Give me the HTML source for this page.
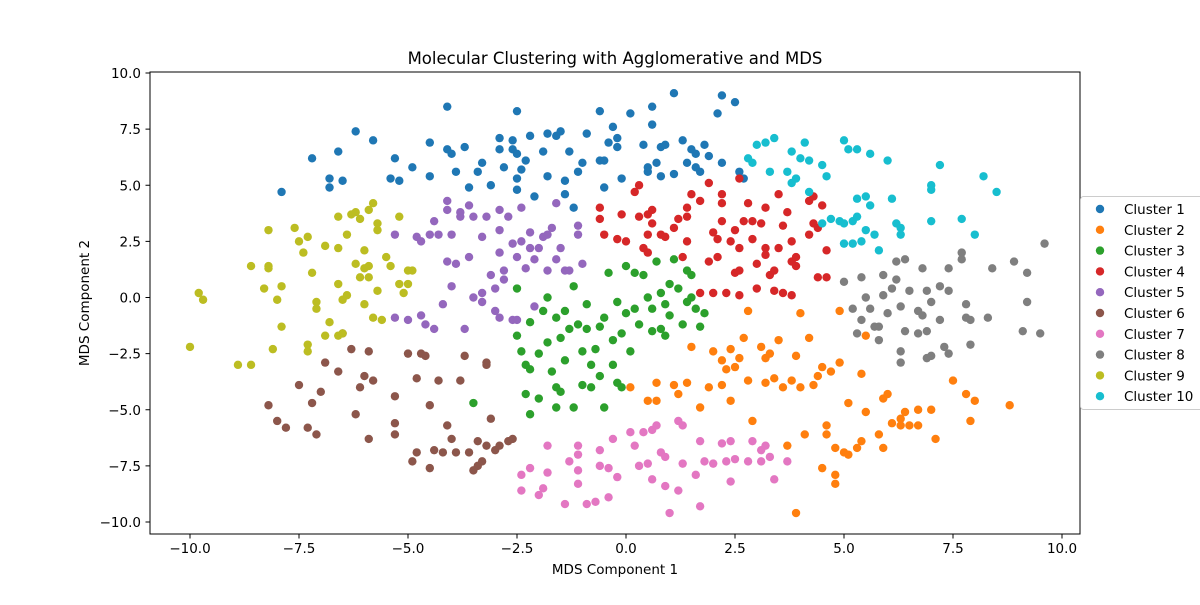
<!DOCTYPE html>
<html><head><meta charset="utf-8">
<style>
body{margin:0;background:#fff;}
svg text{font-family:"DejaVu Sans","Liberation Sans",sans-serif;}
</style></head>
<body>
<svg id="chart" width="1200" height="600" xmlns="http://www.w3.org/2000/svg">
<rect width="1200" height="600" fill="#fff"/>
<text x="615" y="64" text-anchor="middle" font-size="16.5">Molecular Clustering with Agglomerative and MDS</text>
<g id="plot"></g>
<rect x="150" y="72" width="930" height="462" fill="none" stroke="#000" stroke-width="1"/>
<g id="axes"></g>
<text x="615" y="574" text-anchor="middle" font-size="13.5">MDS Component 1</text>
<text x="89" y="303" text-anchor="middle" font-size="13.5" transform="rotate(-90 89 303)">MDS Component 2</text>
<g id="legend"></g>
</svg>
<script>
const clusterNames=["Cluster 1","Cluster 2","Cluster 3","Cluster 4","Cluster 5","Cluster 6","Cluster 7","Cluster 8","Cluster 9","Cluster 10"];
const colors=["#1f77b4","#ff7f0e","#2ca02c","#d62728","#9467bd","#8c564b","#e377c2","#7f7f7f","#bcbd22","#17becf"];
const xTicks=[-10,-7.5,-5,-2.5,0,2.5,5,7.5,10];
const yTicks=[-10,-7.5,-5,-2.5,0,2.5,5,7.5,10];
const c1=[[-7.9,4.7],[-7.2,6.2],[-6.8,5.3],[-6.8,4.9],[-6.6,6.5],[-6.5,5.2],[-6.2,7.4],[-5.8,7.0],[-5.4,5.3],[-5.3,6.2],[-5.2,5.2],[-4.9,5.8],[-4.5,6.9],[-4.5,5.4],[-4.1,8.5],[-4.1,6.6],[-4.0,6.4],[-3.9,5.6],[-3.7,6.7],[-3.6,4.9],[-3.4,5.6],[-3.3,6.0],[-3.1,5.0],[-2.9,7.1],[-2.9,6.6],[-2.8,5.8],[-2.6,7.0],[-2.6,6.6],[-2.5,8.3],[-2.5,6.4],[-2.5,5.3],[-2.5,4.8],[-2.4,5.7],[-2.3,6.1],[-2.2,7.2],[-2.1,4.5],[-1.9,6.5],[-1.8,7.3],[-1.8,5.4],[-1.6,7.2],[-1.5,7.4],[-1.4,4.6],[-1.4,5.2],[-1.3,6.5],[-1.2,4.0],[-1.1,5.6],[-1.0,6.0],[-0.9,7.3],[-0.6,8.3],[-0.6,6.1],[-0.5,6.1],[-0.5,4.9],[-0.4,6.9],[-0.3,7.6],[-0.2,6.7],[-0.2,7.1],[-0.1,5.3],[0.1,8.2],[0.4,6.8],[0.5,5.6],[0.5,5.8],[0.6,8.5],[0.6,7.7],[0.7,6.0],[0.8,5.4],[0.8,6.7],[0.9,6.8],[1.1,9.1],[1.1,5.5],[1.3,7.0],[1.4,6.0],[1.5,6.6],[1.6,6.4],[1.7,5.6],[1.8,6.8],[1.9,6.3],[2.1,8.2],[2.2,9.0],[2.2,6.0],[2.5,8.7],[2.6,5.6],[2.7,5.3],[1.6,5.8]];
const c2=[[1.1,-3.9],[1.2,-4.3],[1.4,-3.8],[1.5,-2.2],[1.7,-4.9],[1.9,-4.0],[2.0,-2.4],[2.2,-2.8],[2.2,-3.9],[2.3,-3.2],[2.4,-2.3],[2.4,-4.6],[2.5,-3.1],[2.6,-2.7],[2.7,-1.8],[2.8,-0.6],[2.8,-3.7],[2.9,-5.5],[3.1,-2.2],[3.2,-2.7],[3.2,-3.8],[3.3,-2.5],[3.4,-3.6],[3.5,-1.9],[3.6,-4.0],[3.7,-6.6],[3.8,-3.7],[3.9,-2.6],[3.9,-9.6],[4.0,-4.0],[4.0,-0.7],[4.1,-6.1],[4.2,-1.8],[4.3,-3.9],[4.4,-3.5],[4.5,-3.1],[4.5,-7.6],[4.6,-5.7],[4.6,-6.1],[4.7,-3.3],[4.8,-6.7],[4.8,-8.3],[4.8,-7.9],[4.9,-0.6],[4.9,-2.9],[5.0,-6.9],[5.1,-7.0],[5.1,-4.7],[5.3,-6.7],[5.4,-6.4],[5.4,-3.4],[5.5,-1.7],[5.5,-5.1],[5.8,-6.1],[5.9,-4.5],[5.9,-6.7],[6.0,-4.3],[6.1,-5.6],[6.3,-5.4],[6.3,-5.7],[6.4,-5.1],[6.5,-5.7],[6.7,-5.0],[6.7,-5.7],[7.0,-5.0],[7.1,-6.3],[7.5,-3.7],[7.8,-4.3],[7.9,-5.5],[8.0,-4.6],[8.8,-4.8],[0.1,-4.0],[0.7,-4.6],[0.7,-3.8],[0.5,-4.6]];
const c3=[[-3.5,-4.7],[-2.4,-2.4],[-2.3,-3.0],[-2.3,-4.3],[-2.2,-1.1],[-2.2,-3.2],[-2.2,-5.2],[-2.0,-2.5],[-2.0,-4.5],[-1.9,-0.6],[-1.8,0.0],[-1.8,-2.0],[-1.7,-3.3],[-1.6,-0.9],[-1.6,-4.0],[-1.6,-4.9],[-1.5,-1.8],[-1.5,-4.2],[-1.4,-2.8],[-1.3,-1.4],[-1.2,0.5],[-1.2,-4.9],[-1.1,-1.2],[-1.0,-2.4],[-1.0,-3.9],[-0.9,-0.3],[-0.9,-1.4],[-0.8,-3.0],[-0.8,-4.0],[-0.7,-2.3],[-0.6,-3.5],[-0.6,-1.3],[-0.5,-4.9],[-0.5,-0.9],[-0.4,1.1],[-0.3,-1.9],[-0.3,-3.0],[-0.2,-0.2],[-0.2,-3.8],[-0.1,-1.6],[-0.1,-4.0],[0.0,-0.7],[0.0,1.4],[0.1,-2.4],[0.2,1.1],[0.2,-0.5],[0.3,-1.2],[0.4,1.0],[0.5,0.0],[0.6,-0.5],[0.7,1.6],[0.8,0.2],[0.8,-1.4],[0.9,-0.3],[0.9,-1.7],[1.0,-0.8],[1.0,0.6],[1.1,1.7],[1.2,0.4],[1.3,-1.2],[1.4,-0.2],[1.5,1.0],[1.5,0.0],[1.6,-0.5],[1.7,-1.3],[1.8,-0.7],[1.4,1.2],[0.6,-1.5],[-1.4,-0.6],[-2.5,0.4],[-2.5,-1.7]];
const c4=[[-0.6,4.0],[-0.6,3.5],[-0.5,2.8],[-0.2,2.6],[-0.1,3.7],[0.0,2.5],[0.2,4.7],[0.3,5.0],[0.3,3.6],[0.4,2.2],[0.5,2.8],[0.5,2.0],[0.5,3.7],[0.6,3.9],[0.6,3.3],[0.8,2.8],[0.9,2.7],[1.1,3.1],[1.2,3.5],[1.3,1.8],[1.4,2.5],[1.4,3.6],[1.4,4.0],[1.5,4.6],[1.7,4.3],[1.9,5.1],[2.0,2.9],[2.1,2.6],[2.1,1.8],[2.0,0.2],[2.2,4.6],[2.2,4.2],[2.2,3.4],[2.4,2.5],[2.5,3.0],[2.5,1.1],[2.6,5.3],[2.6,1.2],[2.6,0.1],[2.7,3.4],[2.8,4.2],[2.9,3.4],[2.9,2.6],[3.0,1.5],[3.0,0.4],[3.1,3.3],[3.2,4.0],[3.2,2.2],[3.2,1.9],[3.3,1.0],[3.4,0.3],[3.4,1.2],[3.5,4.6],[3.5,2.2],[3.6,3.2],[3.6,0.2],[3.7,3.8],[3.8,2.5],[3.8,1.6],[3.8,0.1],[3.9,1.8],[3.9,1.4],[4.2,2.8],[4.2,4.3],[4.3,4.5],[4.3,3.3],[4.4,3.1],[4.4,0.9],[4.5,4.1],[4.6,2.1],[4.6,0.9],[1.7,0.2],[2.3,0.2],[2.6,2.2],[1.9,1.6]];
const c5=[[-5.3,2.8],[-5.3,-0.9],[-5.0,-1.0],[-4.8,2.7],[-4.7,-0.8],[-4.7,2.5],[-4.6,-1.2],[-4.5,2.8],[-4.4,3.4],[-4.4,-1.4],[-4.3,2.8],[-4.2,-0.3],[-4.1,4.3],[-4.1,1.6],[-4.1,3.9],[-4.0,0.5],[-4.0,2.8],[-3.9,1.5],[-3.8,3.6],[-3.8,3.8],[-3.7,-1.4],[-3.6,4.1],[-3.6,1.8],[-3.5,0.0],[-3.3,0.2],[-3.3,2.7],[-3.3,-0.2],[-3.2,3.6],[-3.1,1.0],[-3.0,-0.6],[-3.0,0.4],[-2.9,-0.9],[-2.9,3.9],[-2.9,2.0],[-2.9,3.0],[-2.8,1.2],[-2.8,0.8],[-2.7,3.6],[-2.6,-1.0],[-2.6,2.4],[-2.5,-1.0],[-2.5,1.8],[-2.4,2.5],[-2.3,1.3],[-2.2,2.2],[-2.2,2.9],[-2.1,1.7],[-2.1,-0.4],[-2.0,2.2],[-1.9,2.7],[-1.8,1.2],[-1.8,2.8],[-1.7,3.1],[-1.6,1.7],[-1.5,2.2],[-1.4,1.2],[-1.3,1.2],[-1.1,3.2],[-1.1,2.8],[-1.0,1.5],[-2.4,4.0],[-1.6,4.2],[-3.5,3.6]];
const c6=[[-8.2,-4.8],[-8.0,-5.5],[-7.8,-5.8],[-7.5,-3.9],[-7.3,-5.8],[-7.2,-4.7],[-7.1,-6.1],[-7.0,-4.2],[-6.9,-2.9],[-6.6,-3.3],[-6.5,-1.6],[-6.3,-2.3],[-6.2,-5.2],[-6.1,-4.0],[-6.0,-3.5],[-5.9,-2.4],[-5.9,-6.3],[-5.8,-3.7],[-5.3,-5.6],[-5.3,-6.1],[-5.3,-4.4],[-5.0,-2.5],[-4.9,-7.3],[-4.8,-6.9],[-4.8,-3.6],[-4.7,-2.5],[-4.6,-2.6],[-4.5,-4.8],[-4.5,-7.6],[-4.4,-6.8],[-4.3,-3.7],[-4.2,-6.9],[-4.1,-5.7],[-4.0,-6.3],[-3.9,-6.9],[-3.8,-3.7],[-3.7,-2.6],[-3.6,-6.9],[-3.5,-7.7],[-3.4,-7.5],[-3.4,-6.4],[-3.3,-7.3],[-3.2,-6.6],[-3.2,-3.0],[-3.1,-5.4],[-3.0,-6.8],[-2.9,-6.6],[-2.7,-6.4],[-2.6,-6.3],[-3.2,-2.9]];
const c7=[[-2.4,-7.9],[-2.4,-8.6],[-2.2,-7.6],[-2.0,-8.8],[-1.9,-8.5],[-1.8,-6.6],[-1.8,-7.8],[-1.4,-9.2],[-1.3,-7.3],[-1.1,-7.7],[-1.1,-6.6],[-1.1,-8.3],[-1.1,-7.0],[-0.9,-9.2],[-0.7,-9.1],[-0.6,-6.8],[-0.6,-7.5],[-0.4,-8.9],[-0.4,-7.6],[-0.3,-6.3],[-0.2,-8.0],[0.1,-6.0],[0.3,-7.5],[0.4,-6.0],[0.5,-7.4],[0.6,-5.9],[0.6,-8.1],[0.7,-5.7],[0.8,-6.9],[0.9,-8.4],[0.9,-7.1],[1.0,-9.6],[1.2,-8.6],[1.2,-5.5],[1.3,-5.7],[1.3,-7.4],[1.6,-7.9],[1.7,-9.3],[1.7,-6.4],[1.8,-7.3],[2.0,-7.4],[2.2,-6.5],[2.3,-7.3],[2.4,-6.4],[2.4,-8.2],[2.5,-7.2],[2.8,-7.3],[2.9,-6.4],[3.1,-7.3],[3.1,-6.8],[3.2,-6.6],[3.3,-7.1],[3.4,-8.1],[3.7,-7.3],[0.2,-6.6]];
const c8=[[5.0,0.7],[5.2,-0.5],[5.4,0.9],[5.4,-1.0],[5.5,0.0],[5.6,-0.5],[5.7,-1.3],[5.8,-1.3],[5.8,-1.9],[5.9,1.0],[5.9,0.1],[6.0,-0.7],[6.1,0.4],[6.2,1.6],[6.2,0.8],[6.3,-2.4],[6.3,-2.9],[6.3,-0.4],[6.4,-1.5],[6.4,1.7],[6.5,0.3],[6.7,-0.6],[6.8,1.3],[6.8,-0.8],[6.9,-1.5],[6.9,0.3],[6.9,-2.7],[7.0,-0.2],[7.0,-2.6],[7.2,-1.0],[7.2,0.5],[7.3,-2.2],[7.4,-2.5],[7.4,0.3],[7.7,1.7],[7.7,2.0],[7.8,-0.3],[7.8,-0.9],[7.9,-2.1],[7.9,-1.0],[8.3,-0.9],[8.4,1.3],[8.9,1.6],[9.1,-1.5],[9.2,-0.2],[9.2,1.1],[9.5,-1.6],[9.6,2.4],[5.3,-1.6],[6.7,-1.6],[7.4,1.3]];
const c9=[[-10.0,-2.2],[-9.8,0.2],[-9.7,-0.1],[-8.9,-3.0],[-8.6,1.4],[-8.6,-3.0],[-8.3,0.4],[-8.2,3.0],[-8.2,1.3],[-8.2,1.4],[-8.1,-2.3],[-8.0,-0.1],[-7.9,-1.3],[-7.9,0.5],[-7.6,3.1],[-7.5,2.5],[-7.4,2.0],[-7.3,-2.4],[-7.3,-2.1],[-7.3,2.7],[-7.2,1.1],[-7.1,-0.2],[-7.1,-0.5],[-6.9,2.3],[-6.8,-1.1],[-6.6,-1.7],[-6.6,0.6],[-6.6,3.6],[-6.6,2.2],[-6.5,-0.1],[-6.5,-1.6],[-6.4,0.1],[-6.4,2.8],[-6.3,3.7],[-6.2,3.8],[-6.2,1.5],[-6.1,0.9],[-6.1,3.5],[-6.0,1.3],[-6.0,-0.3],[-6.0,2.1],[-5.9,0.9],[-5.9,1.4],[-5.9,3.9],[-5.8,4.2],[-5.7,3.3],[-5.7,3.0],[-5.7,0.3],[-5.6,-1.0],[-5.5,1.8],[-5.4,1.4],[-5.2,3.6],[-5.2,0.6],[-5.1,0.2],[-5.0,1.2],[-5.0,0.6],[-4.9,1.2],[-5.8,-0.9],[-6.9,-1.7]];
const c10=[[2.8,6.2],[2.9,6.0],[3.0,6.8],[3.2,6.9],[3.3,5.6],[3.4,7.1],[3.7,5.6],[3.8,5.1],[3.8,6.5],[3.9,5.3],[4.0,6.2],[4.1,6.9],[4.2,4.7],[4.2,6.1],[4.5,3.3],[4.5,5.9],[4.6,5.4],[4.7,3.5],[5.0,7.0],[5.0,3.3],[5.0,2.4],[5.1,6.6],[5.2,3.4],[5.2,2.4],[5.3,6.6],[5.3,4.4],[5.3,3.6],[5.4,2.5],[5.5,3.0],[5.6,6.4],[5.6,4.1],[5.7,2.8],[5.8,2.1],[6.0,6.1],[6.1,4.4],[6.2,3.3],[6.3,3.1],[6.3,2.8],[7.0,5.0],[7.0,4.8],[7.0,3.4],[7.2,5.9],[7.7,3.5],[8.0,2.8],[8.2,5.4],[8.5,4.7],[5.5,4.5],[4.9,3.4]];
const series=[c1,c2,c3,c4,c5,c6,c7,c8,c9,c10];

const NS="http://www.w3.org/2000/svg";
function xs(v){return 626+v*43.6;}
function ys(v){return 297.5-v*22.45;}
function fmt(v){const s=Math.abs(v).toFixed(1);return v<0?"\u2212"+s:s;}
function mk(tag,attrs,parent){const e=document.createElementNS(NS,tag);for(const k in attrs)e.setAttribute(k,attrs[k]);parent.appendChild(e);return e;}

const plot=document.getElementById("plot");
series.forEach((pts,i)=>{
  const g=mk("g",{},plot);
  
  
  pts.forEach(p=>{
    const c=mk("circle",{cx:xs(p[0]),cy:ys(p[1]),r:4.2,fill:colors[i]},g);
    
    
  });
});

const axes=document.getElementById("axes");
xTicks.forEach(t=>{
  const x=xs(t);
  const l=mk("line",{x1:x,x2:x,y1:534,y2:538.5,stroke:"#000"},axes);
  
  
  const tx=mk("text",{x:x,y:553,"text-anchor":"middle","font-size":"13.5"},axes);
  tx.textContent=fmt(t);
  
  
});
yTicks.forEach(t=>{
  const y=ys(t);
  const l=mk("line",{x1:145.5,x2:150,y1:y,y2:y,stroke:"#000"},axes);
  
  
  const tx=mk("text",{x:141,y:y+5,"text-anchor":"end","font-size":"13.5"},axes);
  tx.textContent=fmt(t);
  
  
});

const leg=document.getElementById("legend");
const box=mk("rect",{x:1080.5,y:196.5,width:130,height:213,rx:3,fill:"#fff","fill-opacity":0.85,stroke:"#ccc"},leg);


clusterNames.forEach((n,i)=>{
  const y=209+i*20.8;
  const c=mk("circle",{cx:1100,cy:y,r:4.2,fill:colors[i]},leg);
  
  
  const t=mk("text",{x:1124,y:y+5,"font-size":"13.5"},leg);
  t.textContent=n;
  
  
});
</script>
</body></html>
